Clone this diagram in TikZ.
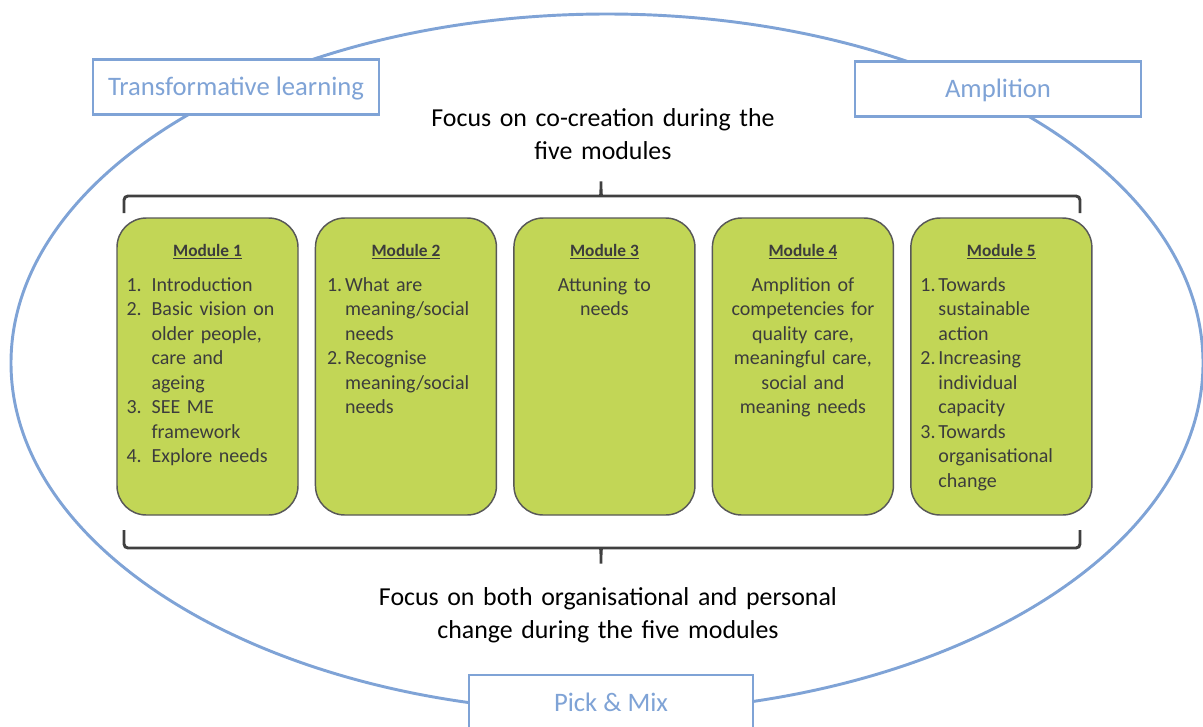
\documentclass[tikz,border=0pt]{standalone}
\usepackage{fontspec}
\setmainfont{Carlito}
\usepackage{xcolor}
\usepackage{tikz}
\usetikzlibrary{positioning, calc}

\definecolor{ringblue}{RGB}{127,163,214}
\definecolor{modgreen}{RGB}{194,214,86}
\definecolor{modedge}{RGB}{88,88,88}
\definecolor{modink}{RGB}{60,60,60}
\definecolor{braceink}{RGB}{64,64,64}

% hanging list numbers
\newcommand{\mnum}[2][18.75pt]{\makebox[#1][l]{#2}}
\newcommand{\mind}[1][18.75pt]{\hspace*{#1}}

\begin{document}
\begin{tikzpicture}[
    x=0.75pt, y=-0.75pt,
    node distance=13.1pt,
    ring/.style={draw=ringblue, line width=2.2pt},
    tag/.style={draw=ringblue, line width=2.2pt, fill=white, text=ringblue, font=\fontsize{20}{24}\selectfont, minimum width=214.5pt, minimum height=41pt, inner sep=0pt, text depth=1pt},
    module/.style={draw=modedge, line width=1.1pt, fill=modgreen, rounded corners=22pt, minimum width=135.75pt, minimum height=222.75pt, inner sep=0pt, outer sep=0pt},
    modtitle/.style={anchor=base, text=modink, font=\fontsize{13}{15}\selectfont\bfseries, inner sep=0pt},
    modlist/.style={anchor=base west, text=modink, font=\fontsize{15}{18.4}\selectfont, text width=125pt, align=left, inner sep=0pt},
    modcentre/.style={anchor=base, text=modink, font=\fontsize{15}{18.4}\selectfont, text width=130pt, align=center, inner sep=0pt},
    focus/.style={anchor=base, font=\fontsize{19.4}{24.75}\selectfont, text width=420pt, align=center, inner sep=0pt},
    brace/.style={draw=braceink, line width=2.2pt, rounded corners=3pt}
]
    \clip (0,0) rectangle (1203,726);

    % Outer ring
    \draw[ring] (607,363) ellipse [x radius=447pt, y radius=261.75pt];

    % Ring labels
    \node[tag] (trans) at (236,87) {Transformative learning};
    \node[tag] (ampl) at (998,89) {Amplition};
    \node[tag, minimum width=213pt, minimum height=42pt] (pick) at (611,703) {Pick \& Mix};

    % Modules
    \node[module] (m1) at (207.5,366.5) {};
    \node[module, right=of m1] (m2) {};
    \node[module, right=of m2] (m3) {};
    \node[module, right=of m3] (m4) {};
    \node[module, right=of m4] (m5) {};

    \foreach \i in {1,...,5}
        \node[modtitle] (t\i) at ([yshift=-28.5pt]m\i.north) {\underline{Module \i}};

    \node[modlist] (l1) at ([xshift=7pt, yshift=-54.75pt]m1.north west)
        {\mnum{1.}Introduction\\
         \mnum{2.}Basic vision on\\ \mind older people,\\ \mind care and\\ \mind ageing\\
         \mnum{3.}SEE ME\\ \mind framework\\
         \mnum{4.}Explore needs};
    \node[modlist] (l2) at ([xshift=8.5pt, yshift=-54.75pt]m2.north west)
        {\mnum[13.5pt]{1.}What are\\ \mind[13.5pt]meaning/social\\ \mind[13.5pt]needs\\
         \mnum[13.5pt]{2.}Recognise\\ \mind[13.5pt]meaning/social\\ \mind[13.5pt]needs};
    \node[modcentre] (l3) at ([yshift=-54.75pt]m3.north) {Attuning to\\needs};
    \node[modcentre] (l4) at ([yshift=-54.75pt]m4.north)
        {Amplition of\\competencies for\\quality care,\\meaningful care,\\social and\\meaning needs};
    \node[modlist] (l5) at ([xshift=7pt, yshift=-54.75pt]m5.north west)
        {\mnum[13.5pt]{1.}Towards\\ \mind[13.5pt]sustainable\\ \mind[13.5pt]action\\
         \mnum[13.5pt]{2.}Increasing\\ \mind[13.5pt]individual\\ \mind[13.5pt]capacity\\
         \mnum[13.5pt]{3.}Towards\\ \mind[13.5pt]organisational\\ \mind[13.5pt]change};

    % Brackets
    \draw[brace] (124,213) -- (124,196) -- (598,196) .. controls (601,196) and (601,192) .. (601,179)
        .. controls (601,192) and (601,196) .. (604,196) -- (1080,196) -- (1080,213);
    \draw[brace] (124,530) -- (124,548) -- (598,548) .. controls (601,548) and (601,552) .. (601,566)
        .. controls (601,552) and (601,548) .. (604,548) -- (1080,548) -- (1080,530);

    % Focus texts
    \node[focus] (cocreate) at (603,126.5) {Focus on co-creation during the\\five modules};
    \node[focus] (change) at (608,605.5) {Focus on both organisational and personal\\change during the five modules};
\end{tikzpicture}
\end{document}
